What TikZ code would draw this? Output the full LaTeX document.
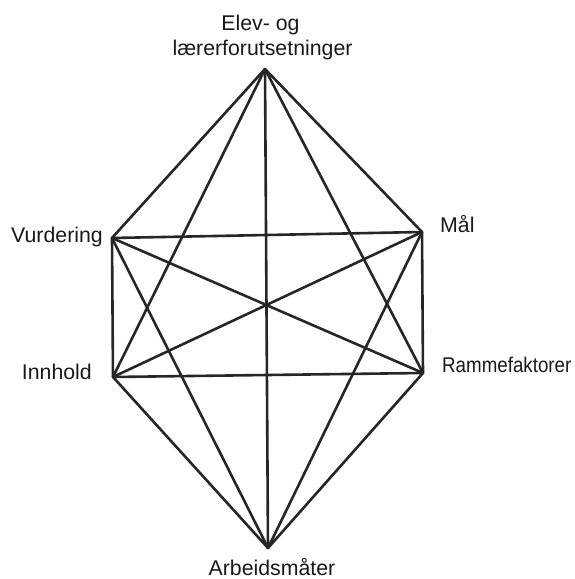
\documentclass[tikz,border=0pt]{standalone}
\usepackage{fontspec}
\setmainfont{Liberation Sans}
\begin{document}
\begin{tikzpicture}[x=1pt,y=1pt,
  edge/.style={draw=black!85,line width=2.6pt,line cap=round,line join=round},
  lbl/.style={inner sep=0pt,font=\fontsize{21.3}{25}\selectfont,text=black!90}]
\useasboundingbox (0,0) rectangle (575,579);
\coordinate (T) at (265,510);
\coordinate (M) at (422,347);
\coordinate (R) at (423,206);
\coordinate (B) at (268,31);
\coordinate (I) at (113,202);
\coordinate (V) at (112,341);
\foreach \a/\b in {T/M,T/R,T/B,T/I,T/V,M/R,M/B,M/I,M/V,R/B,R/I,R/V,B/I,B/V,I/V}
  \draw[edge] (\a) -- (\b);
\node[lbl,anchor=base] (t1) at (260.5,548) {Elev- og};
\node[lbl,anchor=base] (t2) at (262.5,523) {lærerforutsetninger};
\node[lbl,anchor=base east] (v) at (103,336) {Vurdering};
\node[lbl,anchor=base west] (m) at (440,346) {Mål};
\node[lbl,anchor=base east] (i) at (92,199) {Innhold};
\node[lbl,anchor=base west] (r) at (442,206) {\scalebox{0.88}[1]{Rammefaktorer}};
\node[lbl,anchor=base] (b) at (272,3) {Arbeidsmåter};
\end{tikzpicture}
\end{document}
